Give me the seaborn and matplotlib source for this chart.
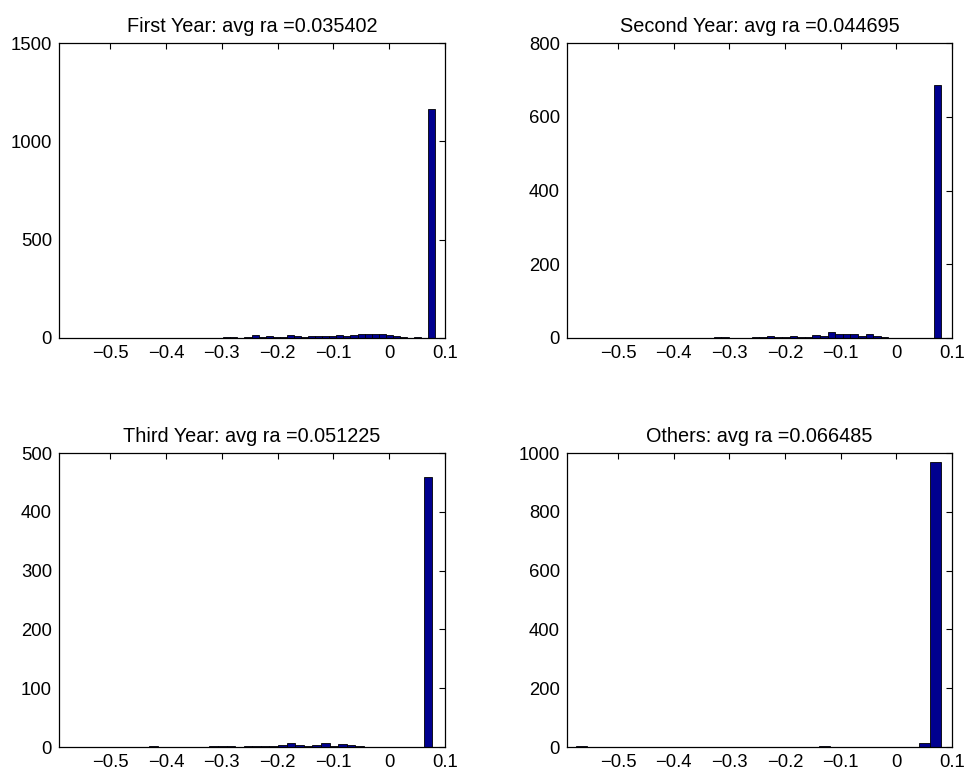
import numpy as np
import pandas as pd
import matplotlib
matplotlib.use("Agg")
import matplotlib.pyplot as plt
import seaborn as sns

# ---------------- data ----------------
titles = [
    "First Year: avg ra =0.035402",
    "Second Year: avg ra =0.044695",
    "Third Year: avg ra =0.051225",
    "Others: avg ra =0.066485",
]

# histogram bin ranges (low edge, high edge) for each panel
first_range = (-0.2975, 0.0825)
second_range = (-0.41, 0.081)
third_range = (-0.43, 0.0775)
others_range = (-0.576, 0.0805)

first_counts = [3, 3, 2, 4, 15, 6, 8, 4, 7, 13, 8, 7, 8, 8, 9, 10, 13, 12, 13,
                18, 19, 20, 19, 17, 9, 7, 0, 3, 0, 1165]
second_counts = [1, 0, 1, 1, 0, 1, 2, 2, 1, 0, 1, 2, 4, 5, 4, 2, 5, 3, 3, 7,
                 5, 15, 10, 10, 11, 6, 10, 5, 2, 1, 1, 1, 1, 0, 0, 685]
third_counts = [1, 0, 0, 0, 0, 0, 0, 2, 2, 2, 0, 1, 1, 1, 1, 3, 6, 3, 2, 3,
                6, 2, 5, 3, 1, 0, 0, 0, 0, 0, 0, 0, 460]
others_counts = [2, 1, 0, 0, 1, 0, 0, 0, 0, 0, 0, 0, 0, 1, 1, 0, 0, 1, 1, 1,
                 0, 1, 5, 1, 0, 0, 0, 0, 0, 0, 0, 15, 969]

ylims = [1500, 800, 500, 1000]
ytick_steps = [500, 200, 100, 200]
xtick_values = [-0.5, -0.4, -0.3, -0.2, -0.1, 0.0, 0.1]
xtick_labels = ["\u22120.5", "\u22120.4", "\u22120.3", "\u22120.2", "\u22120.1", "0", "0.1"]

# ---------------- style ----------------
sns.set_style("white")
plt.rcParams["font.family"] = ["Liberation Sans", "DejaVu Sans"]

fig = plt.figure(figsize=(9.67, 7.75), dpi=100)
W, H = 967, 775
boxes = [(59, 43, 386, 295), (567, 43, 385, 295),
         (59, 453, 386, 294), (567, 453, 385, 294)]

panels = [(first_range, first_counts), (second_range, second_counts),
          (third_range, third_counts), (others_range, others_counts)]

for i, ((lo, hi), counts) in enumerate(panels):
    x0, y0, w, h = boxes[i]
    ax = fig.add_axes([x0 / W, 1 - (y0 + h) / H, w / W, h / H])
    edges = np.linspace(lo, hi, len(counts) + 1)
    centers = (edges[:-1] + edges[1:]) / 2
    df = pd.DataFrame({"ra": centers, "n": np.asarray(counts, dtype=float)})
    sns.histplot(data=df, x="ra", weights="n", bins=edges.tolist(), ax=ax,
                 color="#00008F", edgecolor="black", linewidth=0.6, alpha=1.0)
    ax.set_xlim(-0.592, 0.1)
    ax.set_ylim(0, ylims[i])
    ax.set_yticks(np.arange(0, ylims[i] + 1, ytick_steps[i]))
    ax.set_xticks(xtick_values)
    ax.set_xticklabels(xtick_labels)
    ax.set_xlabel("")
    ax.set_ylabel("")
    ax.set_title(titles[i], fontsize=14.3, pad=8, color="black")
    ax.tick_params(direction="in", top=True, right=True, length=4, width=0.8,
                   labelsize=13.3, colors="black", pad=5)
    for s in ax.spines.values():
        s.set_visible(True)
        s.set_color("black")
        s.set_linewidth(0.9)

fig.savefig("out.png", dpi=100)
